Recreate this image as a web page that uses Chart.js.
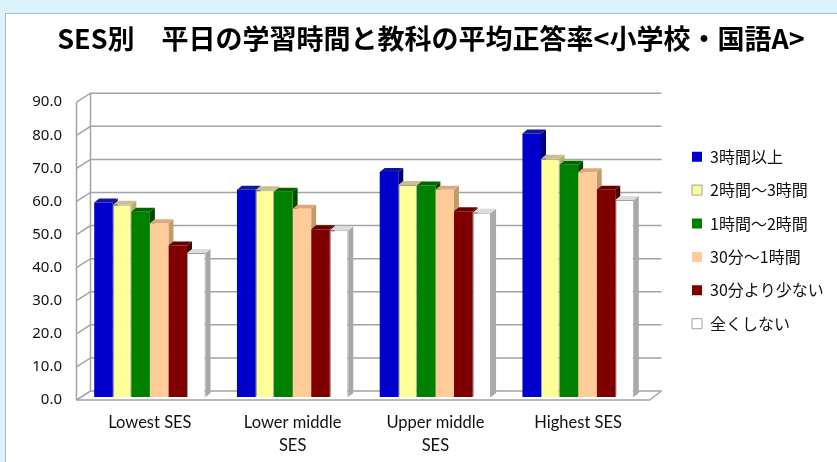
<!DOCTYPE html>
<html lang="ja">
<head>
<meta charset="utf-8">
<title>SES別 平日の学習時間と教科の平均正答率</title>
<script src="https://cdn.jsdelivr.net/npm/chart.js@4.4.1/dist/chart.umd.min.js"></script>
<style>
  html, body { margin: 0; padding: 0; }
  body { width: 837px; height: 462px; background: #dcf3fb; position: relative; overflow: hidden; }
  #panel { position: absolute; left: 5px; top: 13px; right: 0; bottom: 0; background: #fff;
           border-left: 1px solid #a9bcc4; border-top: 1px solid #a9bcc4; }
  #chart { position: absolute; left: 0; top: 0; }
</style>
</head>
<body>
<div id="panel"></div>
<canvas id="chart" width="837" height="462"></canvas>
<script>
// Categories and series
const categories = ['Lowest SES', ['Lower middle', 'SES'], ['Upper middle', 'SES'], 'Highest SES'];
const seriesNames = ['3時間以上', '2時間～3時間', '1時間～2時間', '30分～1時間', '30分より少ない', '全くしない'];

// Average correct answer rate (%)
const over3h   = [58.8, 62.6, 68.0, 79.6];
const h2to3    = [58.1, 62.5, 64.1, 72.0];
const h1to2    = [56.0, 62.0, 63.9, 70.2];
const m30to1h  = [52.5, 56.9, 62.6, 67.9];
const under30m = [45.8, 50.7, 56.1, 62.6];
const noStudy  = [43.5, 50.4, 55.7, 59.5];

// Y axis ticks
const yMin = 0, yMax = 90, yStep = 10;

// layout targets (px)
const PLOT_LEFT = 78.5, PLOT_RIGHT = 649.5, LEGEND_BOX_X = 692;
const legendFont = { family: '"Noto Sans CJK JP", sans-serif', size: 16 };
const legendPad = 17.4;
const legendLeft = LEGEND_BOX_X - legendPad;

// fake 3D: wall, floor and bar faces
const WALL_FRONT = { dx: -2, dy: 3 };
const WALL_BACK = { dx: 12, dy: -6 };
const BAR_DEPTH = { dx: 5, dy: -4 };

function poly(ctx, pts, fill) {
    ctx.beginPath();
    ctx.moveTo(pts[0][0], pts[0][1]);
    for (let i = 1; i < pts.length; i++) ctx.lineTo(pts[i][0], pts[i][1]);
    ctx.closePath();
    ctx.fillStyle = fill;
    ctx.fill();
}

const depth3d = {
    id: 'depth3d',
    beforeDatasetsDraw(chart) {
        const { ctx, chartArea: a, scales: { y } } = chart;
        const fx = a.left + WALL_FRONT.dx, bx = a.left + WALL_BACK.dx;
        const top = y.getPixelForValue(yMax), base = y.getPixelForValue(yMin);
        ctx.save();
        ctx.strokeStyle = '#a3a3a3';
        ctx.lineWidth = 1.5;

        // back wall grid lines + left wall diagonals
        for (let v = yMin; v <= yMax; v += yStep) {
            const p = y.getPixelForValue(v);
            ctx.beginPath();
            ctx.moveTo(fx, p + WALL_FRONT.dy);
            ctx.lineTo(bx, p + WALL_BACK.dy);
            ctx.lineTo(a.right + WALL_BACK.dx, p + WALL_BACK.dy);
            ctx.stroke();
        }
        ctx.beginPath();
        ctx.moveTo(fx, top + WALL_FRONT.dy);
        ctx.lineTo(fx, base + WALL_FRONT.dy);
        ctx.moveTo(bx, top + WALL_BACK.dy);
        ctx.lineTo(bx, base + WALL_BACK.dy);
        // floor
        ctx.moveTo(fx, base + WALL_FRONT.dy);
        ctx.lineTo(a.right, base + WALL_FRONT.dy);
        ctx.lineTo(a.right + WALL_BACK.dx, base + WALL_BACK.dy);
        ctx.stroke();

        // top and side faces of the bars (fronts are drawn by Chart.js afterwards)
        chart.data.datasets.forEach((ds, i) => {
            const meta = chart.getDatasetMeta(i);
            meta.data.forEach(bar => {
                const { x, y: yt, base: b, width } = bar.getProps(['x', 'y', 'base', 'width'], true);
                const l = x - width / 2, r = x + width / 2;
                const ox = BAR_DEPTH.dx, oy = BAR_DEPTH.dy;
                poly(ctx, [[r, yt], [r + ox, yt + oy], [r + ox, b + oy], [r, b]], ds.sideColor);
                poly(ctx, [[l, yt], [r, yt], [r + ox, yt + oy], [l + ox, yt + oy]], ds.topColor);
            });
        });
        ctx.restore();
    }
};

const ctx = document.getElementById('chart').getContext('2d');
const sesChart = new Chart(ctx, {
    type: 'bar',
    data: {
        labels: categories,
        datasets: [
            { label: seriesNames[0], data: over3h, backgroundColor: '#0000cc', borderWidth: 0,
              topColor: '#14149e', sideColor: '#00007a' },
            { label: seriesNames[1], data: h2to3, backgroundColor: '#ffff99', borderColor: '#a0a0a0', borderWidth: 1,
              topColor: '#cbc08a', sideColor: '#b5ad6c' },
            { label: seriesNames[2], data: h1to2, backgroundColor: '#008000', borderWidth: 0,
              topColor: '#006400', sideColor: '#004a00' },
            { label: seriesNames[3], data: m30to1h, backgroundColor: '#ffcc99', borderWidth: 0,
              topColor: '#dcaa7a', sideColor: '#c49a6c' },
            { label: seriesNames[4], data: under30m, backgroundColor: '#800000', borderWidth: 0,
              topColor: '#680000', sideColor: '#4a0000' },
            { label: seriesNames[5], data: noStudy, backgroundColor: '#ffffff', borderColor: '#a0a0a0', borderWidth: 1,
              topColor: '#dcdcdc', sideColor: '#a8a8a8' }
        ]
    },
    options: {
        responsive: false,
        maintainAspectRatio: false,
        animation: false,
        devicePixelRatio: 1,
        layout: { padding: { left: 25, right: 0, top: 0, bottom: 0 } },
        datasets: { bar: { barPercentage: 1.0, categoryPercentage: 0.78 } },
        plugins: {
            title: {
                display: true,
                text: 'SES別　平日の学習時間と教科の平均正答率<小学校・国語A>',
                color: '#000',
                font: { family: '"Noto Sans CJK JP", sans-serif', size: 27, weight: 'bold' },
                padding: { top: 23, bottom: 43.8 }
            },
            legend: {
                position: 'right',
                align: 'start',
                maxWidth: 300,
                title: { display: true, text: '', font: { size: 12 }, padding: { top: 116.9, bottom: 0 } },
                labels: {
                    boxWidth: 10,
                    boxHeight: 10,
                    padding: legendPad,
                    color: '#111',
                    font: legendFont
                }
            },
            tooltip: { enabled: false }
        },
        scales: {
            x: {
                grid: { display: false, drawTicks: false },
                border: { display: false },
                ticks: {
                    color: '#111',
                    padding: 14,
                    maxRotation: 0,
                    font: { family: 'Lato, "Noto Sans", sans-serif', size: 16.5, lineHeight: 1.4 }
                },
                afterFit(scale) { scale.height = 65; }
            },
            y: {
                min: yMin,
                max: yMax,
                grid: { display: false, drawTicks: false },
                border: { display: false },
                ticks: {
                    stepSize: yStep,
                    padding: 16.5,
                    labelOffset: 3,
                    color: '#111',
                    font: { family: '"Noto Sans", sans-serif', size: 15 },
                    callback: v => v.toFixed(1)
                },
                afterFit(scale) { scale.width = PLOT_LEFT - scale.chart.options.layout.padding.left; }
            },
            yRight: {
                position: 'right',
                display: true,
                grid: { display: false, drawTicks: false },
                border: { display: false },
                ticks: { display: false },
                afterFit(scale) { scale.width = legendLeft - PLOT_RIGHT; }
            }
        }
    },
    plugins: [depth3d]
});

// second pass: put the legend where the reference has it
const padR = Math.max(0, 837 - legendLeft - sesChart.legend.width);
sesChart.options.layout.padding = { left: padR + 25, right: padR, top: 0, bottom: 0 };
sesChart.update();
</script>
</body>
</html>
